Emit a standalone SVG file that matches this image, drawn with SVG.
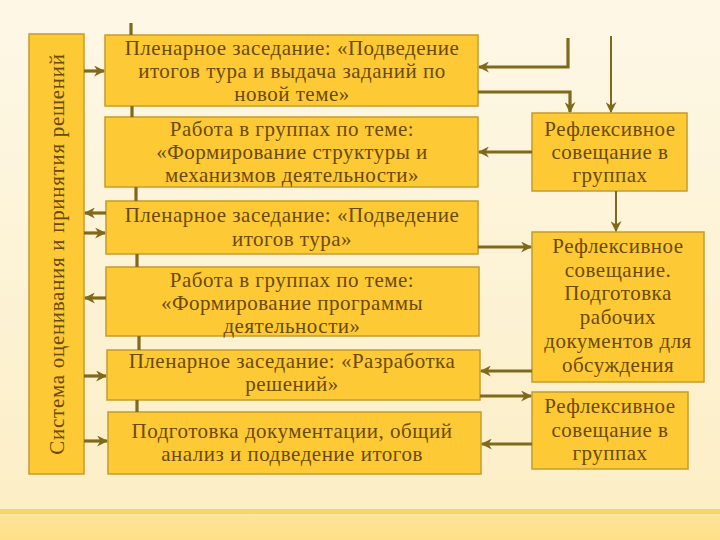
<svg xmlns="http://www.w3.org/2000/svg" width="720" height="540" viewBox="0 0 720 540">
<defs>
<linearGradient id="bg" x1="0" y1="0" x2="0" y2="1">
<stop offset="0" stop-color="#fdf7e6"/>
<stop offset="0.9" stop-color="#fcefc8"/>
<stop offset="1" stop-color="#fcecbf"/>
</linearGradient>
<linearGradient id="band" x1="0" y1="0" x2="0" y2="1">
<stop offset="0" stop-color="#fde49a"/>
<stop offset="1" stop-color="#fde088"/>
</linearGradient>
<marker id="ah" viewBox="0 0 10 10" refX="9" refY="5" markerWidth="11" markerHeight="11" markerUnits="userSpaceOnUse" orient="auto">
<path d="M0,0 L10,5 L0,10 L3,5 z" fill="#7f6a1c"/>
</marker>
<style>
.box{fill:#fdc935;stroke:#c49c2c;stroke-width:1.5}
.t{font-family:"Liberation Serif","Times New Roman",serif;font-size:21px;fill:#6a4a0c;text-anchor:middle;letter-spacing:0.5px}
.c{fill:none;stroke:#7f6a1c;stroke-width:3.2}
.thin{stroke-width:2}
.arr{marker-end:url(#ah)}
</style>
</defs>
<rect x="0" y="0" width="720" height="540" fill="url(#bg)"/>
<rect x="0" y="510" width="720" height="30" fill="url(#band)"/>
<rect x="0" y="509" width="720" height="5" fill="#f8d468"/>
<rect x="0" y="514" width="720" height="2" fill="#fde7a6"/>

<g id="eval">
<rect class="box" x="29" y="34" width="55" height="440"/>
<text class="t" transform="translate(64,254) rotate(-90)" style="letter-spacing:0.7px">Система оценивания и принятия решений</text>
</g>

<g id="n1">
<rect class="box" x="105" y="35" width="373" height="71"/>
<text class="t" x="292" y="55">Пленарное заседание: «Подведение</text>
<text class="t" x="292" y="78">итогов тура и выдача заданий по</text>
<text class="t" x="292" y="101">новой теме»</text>
</g>
<g id="n2">
<rect class="box" x="105" y="117" width="373" height="70"/>
<text class="t" x="292" y="136">Работа в группах по теме:</text>
<text class="t" x="292" y="159">«Формирование структуры и</text>
<text class="t" x="292" y="182">механизмов деятельности»</text>
</g>
<g id="n3">
<rect class="box" x="106" y="201" width="372" height="53"/>
<text class="t" x="292" y="222">Пленарное заседание: «Подведение</text>
<text class="t" x="292" y="246">итогов тура»</text>
</g>
<g id="n4">
<rect class="box" x="106" y="267" width="373" height="69"/>
<text class="t" x="292" y="287">Работа в группах по теме:</text>
<text class="t" x="292" y="310">«Формирование программы</text>
<text class="t" x="292" y="333">деятельности»</text>
</g>
<g id="n5">
<rect class="box" x="107" y="350" width="373" height="50"/>
<text class="t" x="292" y="368">Пленарное заседание: «Разработка</text>
<text class="t" x="292" y="391">решений»</text>
</g>
<g id="n6">
<rect class="box" x="108" y="412" width="373" height="62"/>
<text class="t" x="292" y="438">Подготовка документации, общий</text>
<text class="t" x="292" y="461">анализ и подведение итогов</text>
</g>

<g id="r1">
<rect class="box" x="532" y="113" width="155" height="78"/>
<text class="t" x="610" y="136">Рефлексивное</text>
<text class="t" x="610" y="159">совещание в</text>
<text class="t" x="610" y="182">группах</text>
</g>
<g id="r2">
<rect class="box" x="532" y="232" width="172" height="150"/>
<text class="t" x="618" y="253">Рефлексивное</text>
<text class="t" x="618" y="277">совещание.</text>
<text class="t" x="618" y="300">Подготовка</text>
<text class="t" x="618" y="324">рабочих</text>
<text class="t" x="618" y="348">документов для</text>
<text class="t" x="618" y="372">обсуждения</text>
</g>
<g id="r3">
<rect class="box" x="532" y="392" width="156" height="77"/>
<text class="t" x="610" y="413">Рефлексивное</text>
<text class="t" x="610" y="437">совещание в</text>
<text class="t" x="610" y="460">группах</text>
</g>

<g id="connectors">
<line class="c" x1="131" y1="23" x2="131" y2="35"/>
<line class="c" x1="132" y1="106" x2="132" y2="117"/>
<line class="c" x1="136" y1="187" x2="136" y2="201"/>
<line class="c" x1="137" y1="254" x2="137" y2="267"/>
<line class="c" x1="139" y1="336" x2="139" y2="350"/>
<line class="c" x1="137" y1="400" x2="137" y2="412"/>

<line class="c arr" x1="84" y1="71" x2="104" y2="71"/>
<line class="c arr" x1="106" y1="213" x2="85" y2="213"/>
<line class="c arr" x1="84" y1="233" x2="105" y2="233"/>
<line class="c arr" x1="106" y1="298" x2="85" y2="298"/>
<line class="c arr" x1="84" y1="376" x2="106" y2="376"/>
<line class="c arr" x1="84" y1="441" x2="107" y2="441"/>

<polyline class="c arr" points="568,38 568,67 479,67"/>
<polyline class="c arr" points="478,92 570,92 570,112"/>
<line class="c thin arr" x1="611" y1="36" x2="611" y2="112"/>
<line class="c arr" x1="532" y1="152" x2="479" y2="152"/>
<line class="c thin arr" x1="616" y1="191" x2="616" y2="231"/>
<line class="c arr" x1="478" y1="247" x2="531" y2="247"/>
<line class="c arr" x1="532" y1="371" x2="481" y2="371"/>
<line class="c arr" x1="480" y1="396" x2="531" y2="396"/>
<line class="c arr" x1="532" y1="444" x2="482" y2="444"/>
</g>
</svg>
